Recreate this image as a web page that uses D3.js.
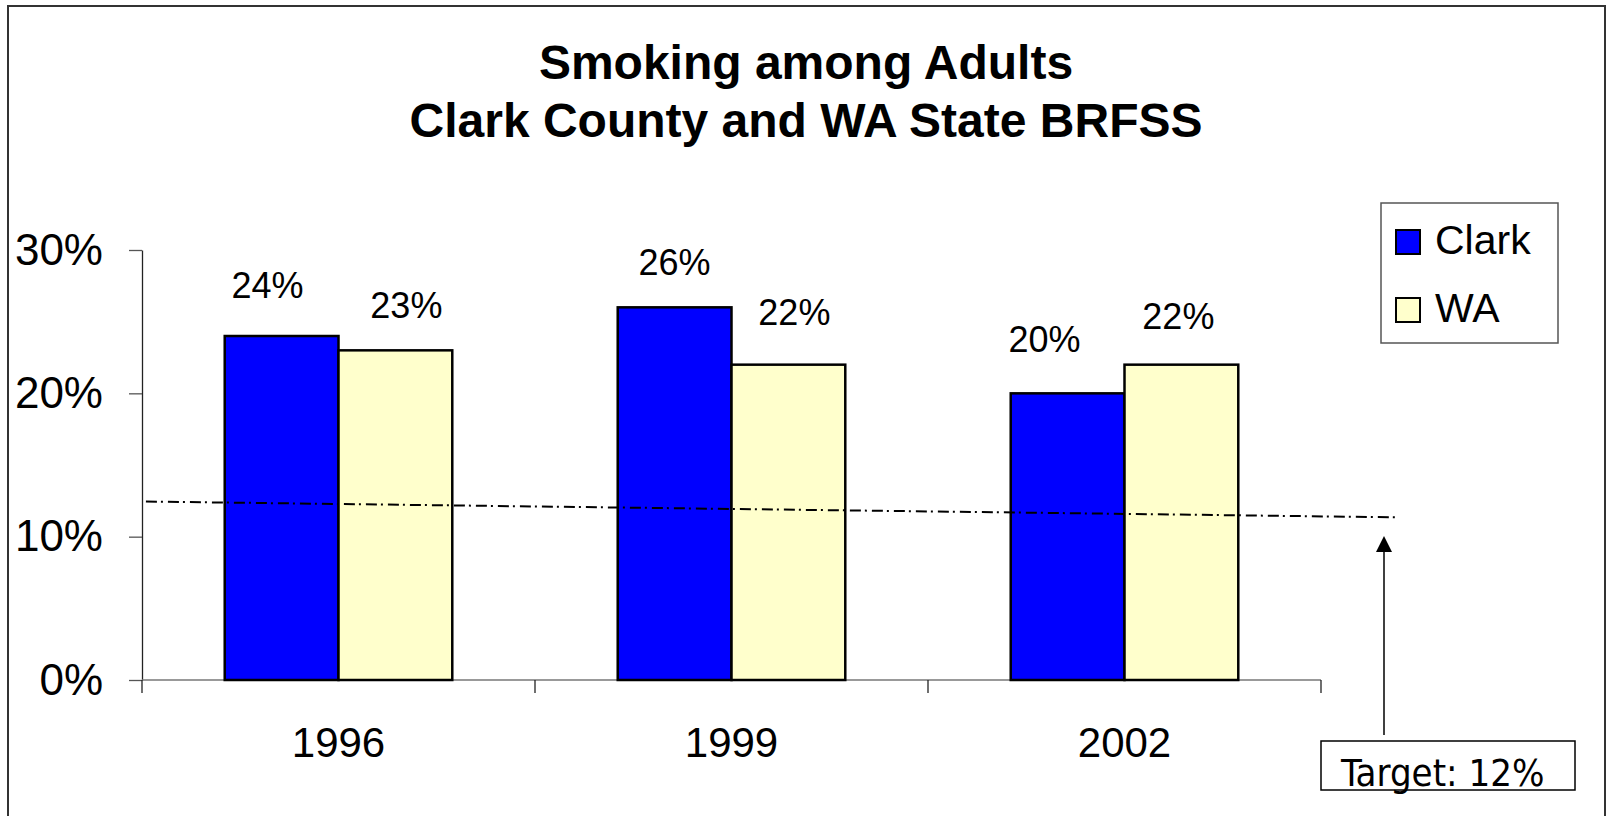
<!DOCTYPE html>
<html>
<head>
<meta charset="utf-8">
<script src="https://cdn.jsdelivr.net/npm/d3@7"></script>
<style>
  html, body { margin: 0; padding: 0; background: #fff; }
  svg { display: block; }
  text { font-family: "Liberation Sans", Arial, sans-serif; fill: #000; }
</style>
</head>
<body>
<svg id="chart" width="1609" height="816"></svg>
<script>
// ---- data ----
const titleLines = ["Smoking among Adults", "Clark County and WA State BRFSS"];
const categories = ["1996", "1999", "2002"];
const seriesNames = ["Clark", "WA"];
const clarkValues = [24, 26, 20];
const waValues = [23, 22, 22];
const yTicks = [0, 10, 20, 30];
const targetLabel = "Target: 12%";
// hand-drawn target line: positions in category-index units, values in %
const targetLineIdx = [-0.49, 2.69];
const targetLineVal = [12.45, 11.35];

// ---- layout tweaks (manually placed value labels in the original) ----
const labelNudgeX = { Clark: [-14, 0, -23], WA: [11, 6, -3] };
const labelGap = { Clark: [38, 32, 41], WA: [32, 40, 36] };

const seriesValues = { Clark: clarkValues, WA: waValues };
const colors = { Clark: "#0000FF", WA: "#FFFFCC" };

const svg = d3.select("#chart");

// outer frame
svg.append("rect")
  .attr("x", 8).attr("y", 6).attr("width", 1597).attr("height", 840)
  .attr("fill", "none").attr("stroke", "#333").attr("stroke-width", 2);

// title
svg.append("g").selectAll("text").data(titleLines).join("text")
  .attr("x", 806).attr("y", (d, i) => 79 + i * 58)
  .attr("text-anchor", "middle")
  .attr("font-size", 48).attr("font-weight", "bold")
  .text(d => d);

// scales
const plotL = 142, plotR = 1321, plotT = 250, plotB = 680;
const x0 = d3.scaleBand().domain(categories).range([plotL, plotR]).padding(0);
const x1 = d3.scaleBand().domain(seriesNames).range([0, x0.bandwidth()])
  .paddingInner(0).paddingOuter(0.727);
const y = d3.scaleLinear().domain([0, 30]).range([plotB, plotT]);
const xIdx = d3.scaleLinear().domain([-0.5, categories.length - 0.5]).range([plotL, plotR]);

// y axis
const yAxis = svg.append("g").attr("transform", `translate(${plotL},0)`)
  .call(d3.axisLeft(y).tickValues(yTicks).tickFormat(d => d + "%")
    .tickSize(13).tickSizeOuter(0).tickPadding(26));
yAxis.select(".domain").attr("stroke", "#222").attr("stroke-width", 1.3);
yAxis.selectAll(".tick line").attr("stroke", "#555").attr("stroke-width", 1.3);
yAxis.selectAll(".tick text").attr("font-size", 44)
  .attr("font-family", "'Liberation Sans', Arial, sans-serif").attr("fill", "#000");

// x axis line + boundary ticks
svg.append("line")
  .attr("x1", plotL).attr("x2", plotR).attr("y1", plotB).attr("y2", plotB)
  .attr("stroke", "#777").attr("stroke-width", 1.3);
const bounds = categories.map(c => x0(c)).concat([x0(categories[categories.length - 1]) + x0.bandwidth()]);
svg.append("g").selectAll("line").data(bounds).join("line")
  .attr("x1", d => d).attr("x2", d => d)
  .attr("y1", plotB).attr("y2", plotB + 13)
  .attr("stroke", "#222").attr("stroke-width", 1.3);

const xAxis = svg.append("g").attr("transform", `translate(0,${plotB})`)
  .call(d3.axisBottom(x0).tickSize(0).tickPadding(47));
xAxis.select(".domain").remove();
xAxis.selectAll(".tick text").attr("font-size", 42)
  .attr("font-family", "'Liberation Sans', Arial, sans-serif").attr("fill", "#000");

// bars
const groups = svg.append("g").selectAll("g").data(categories).join("g")
  .attr("transform", c => `translate(${x0(c)},0)`);
groups.selectAll("rect")
  .data((c, i) => seriesNames.map(s => ({ s, i, v: seriesValues[s][i] })))
  .join("rect")
  .attr("x", d => x1(d.s)).attr("width", x1.bandwidth())
  .attr("y", d => y(d.v)).attr("height", d => y(0) - y(d.v))
  .attr("fill", d => colors[d.s])
  .attr("stroke", "#000").attr("stroke-width", 2.5);

// value labels
groups.selectAll("text.val")
  .data((c, i) => seriesNames.map(s => ({ s, i, v: seriesValues[s][i] })))
  .join("text").attr("class", "val")
  .attr("x", d => x1(d.s) + x1.bandwidth() / 2 + labelNudgeX[d.s][d.i])
  .attr("y", d => y(d.v) - labelGap[d.s][d.i])
  .attr("text-anchor", "middle").attr("font-size", 36)
  .text(d => d.v + "%");

// target dash-dot line
svg.append("line")
  .attr("x1", xIdx(targetLineIdx[0])).attr("x2", xIdx(targetLineIdx[1]))
  .attr("y1", y(targetLineVal[0])).attr("y2", y(targetLineVal[1]))
  .attr("stroke", "#000").attr("stroke-width", 2)
  .attr("stroke-dasharray", "11,4,2,5");

// arrow
const arrowX = 1384;
const tipY = 536;
svg.append("line")
  .attr("x1", arrowX).attr("x2", arrowX).attr("y1", 735).attr("y2", tipY + 14)
  .attr("stroke", "#000").attr("stroke-width", 1.5);
svg.append("path")
  .attr("d", `M${arrowX},${tipY} L${arrowX - 8},${tipY + 16} L${arrowX + 8},${tipY + 16} Z`)
  .attr("fill", "#000");

// target box
svg.append("rect")
  .attr("x", plotR).attr("y", 741).attr("width", 254).attr("height", 49)
  .attr("fill", "#fff").attr("stroke", "#000").attr("stroke-width", 1.5);
svg.append("text")
  .attr("x", 1341).attr("y", 786)
  .attr("font-size", 38)
  .style("font-family", "'DejaVu Sans Condensed', 'DejaVu Sans', sans-serif")
  .style("font-stretch", "condensed")
  .text(targetLabel);

// legend
const legend = svg.append("g");
legend.append("rect")
  .attr("x", 1381).attr("y", 203).attr("width", 177).attr("height", 140)
  .attr("fill", "#fff").attr("stroke", "#555").attr("stroke-width", 1.5);
const li = legend.selectAll("g").data(seriesNames).join("g")
  .attr("transform", (d, i) => `translate(0,${i * 68})`);
li.append("rect")
  .attr("x", 1396).attr("y", 230).attr("width", 24).attr("height", 24)
  .attr("fill", d => colors[d]).attr("stroke", "#000").attr("stroke-width", 2);
li.append("text")
  .attr("x", 1435).attr("y", 254)
  .attr("font-size", 41)
  .text(d => d);
</script>
</body>
</html>
